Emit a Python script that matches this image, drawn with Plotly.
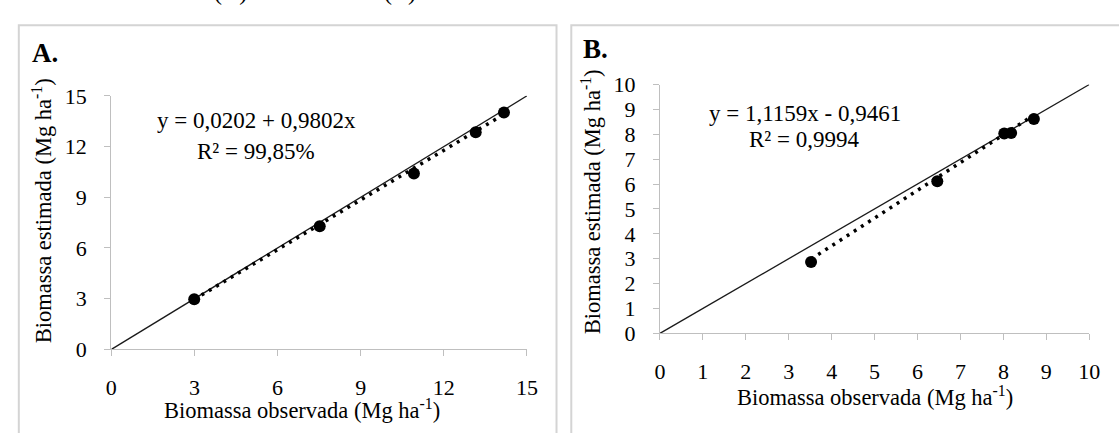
import plotly.graph_objects as go

W, H = 1119, 433

# ---- data ----
obs_a = [2.99, 7.52, 10.92, 13.15, 14.17]
est_a = [2.96, 7.28, 10.40, 12.85, 14.02]
coef_a = [0.0202, 0.9802]          # intercept, slope
axis_max_a = 15
dtick_a = 3

obs_b = [3.52, 6.46, 8.02, 8.18, 8.71]
est_b = [2.87, 6.11, 8.03, 8.05, 8.62]
coef_b = [-0.9461, 1.1159]          # intercept, slope
axis_max_b = 10
dtick_b = 1

eq_a = ["y = 0,0202 + 0,9802x", "R² = 99,85%"]
eq_b = ["y = 1,1159x - 0,9461", "R² = 0,9994"]
panel_labels = ["A.", "B."]
caption_bits = ["(A)", "(B)"]
xtitle = "Biomassa observada (Mg ha<sup>-1</sup>)"
ytitle = "Biomassa estimada (Mg ha<sup>-1</sup>)"

FONT = "Liberation Serif, Times New Roman, serif"
AXC = "#bfbfbf"


def px(x):
    return x / W


def py(y):
    return 1 - y / H


def fit_line(xs, coef):
    xx = [min(xs), max(xs)]
    return xx, [coef[0] + coef[1] * v for v in xx]


fig = go.Figure()

for (obs, est, coef, amax, xa, ya) in [
    (obs_a, est_a, coef_a, axis_max_a, "x", "y"),
    (obs_b, est_b, coef_b, axis_max_b, "x2", "y2"),
]:
    fig.add_trace(go.Scatter(x=[0, amax], y=[0, amax], mode="lines",
                             line=dict(color="#1a1a1a", width=1.3),
                             xaxis=xa, yaxis=ya, showlegend=False, hoverinfo="skip"))
    tx, ty = fit_line(obs, coef)
    fig.add_trace(go.Scatter(x=tx, y=ty, mode="lines",
                             line=dict(color="black", width=3.5, dash="3px,5.5px"),
                             xaxis=xa, yaxis=ya, showlegend=False, hoverinfo="skip"))
    fig.add_trace(go.Scatter(x=obs, y=est, mode="markers",
                             marker=dict(color="black", size=12),
                             xaxis=xa, yaxis=ya, showlegend=False))


def axis(domain, rng, dtick, anchor, standoff):
    return dict(domain=domain, range=rng, dtick=dtick, tick0=0, anchor=anchor,
                showline=True, linecolor=AXC, linewidth=1.2,
                ticks="outside", ticklen=6, tickcolor=AXC, tickwidth=1.2,
                showgrid=False, zeroline=False, fixedrange=True,
                ticklabelstandoff=standoff,
                tickfont=dict(family=FONT, size=22, color="black"))


fig.update_layout(
    width=W, height=H, autosize=False,
    margin=dict(l=0, r=0, t=0, b=0),
    paper_bgcolor="white", plot_bgcolor="white",
    xaxis=axis([px(107), px(529)], [0, axis_max_a], dtick_a, "y", 12),
    yaxis=axis([py(358), py(89)], [0, axis_max_a], dtick_a, "x", 13),
    xaxis2=axis([px(664), px(1100)], [0, axis_max_b], dtick_b, "y2", 12),
    yaxis2=axis([py(341), py(77)], [0, axis_max_b], dtick_b, "x2", 13),
)

# panel frames
fig.add_shape(type="rect", xref="paper", yref="paper",
              x0=px(13), x1=px(559), y0=-0.1, y1=py(14),
              line=dict(color="#d4d4d4", width=2), layer="below")
fig.add_shape(type="rect", xref="paper", yref="paper",
              x0=px(574), x1=1.05, y0=-0.1, y1=py(14),
              line=dict(color="#d4d4d4", width=2), layer="below")


def ann(text, x, y, size=23, bold=False, angle=0, xanchor="center"):
    t = f"<b>{text}</b>" if bold else text
    fig.add_annotation(text=t, x=px(x), y=py(y), xref="paper", yref="paper",
                       xanchor=xanchor, yanchor="middle", showarrow=False,
                       textangle=angle,
                       font=dict(family=FONT, size=size, color="black"))


# panel letters
ann(panel_labels[0], 24, 44, size=27, bold=True, xanchor="left")
ann(panel_labels[1], 584, 39, size=27, bold=True, xanchor="left")

# equations
ann(eq_a[0], 254, 115)
ann(eq_a[1], 254, 148)
ann(eq_b[0], 811, 108)
ann(eq_b[1], 810, 135)

# axis titles
ann(xtitle, 301, 421, size=22.5)
ann(xtitle, 882, 407, size=22.5)
ann(ytitle, 36, 211, size=22.5, angle=-90)
ann(ytitle, 594, 201, size=22.5, angle=-90)

# clipped fragments of the caption above (only the bottoms show)
for txt, cx in zip(caption_bits, [228, 400]):
    fig.add_annotation(text=txt, x=px(cx), y=py(-5), xref="paper", yref="paper",
                       xanchor="center", yanchor="bottom", showarrow=False,
                       font=dict(family=FONT, size=24, color="black"))

fig.write_html("out.html")
